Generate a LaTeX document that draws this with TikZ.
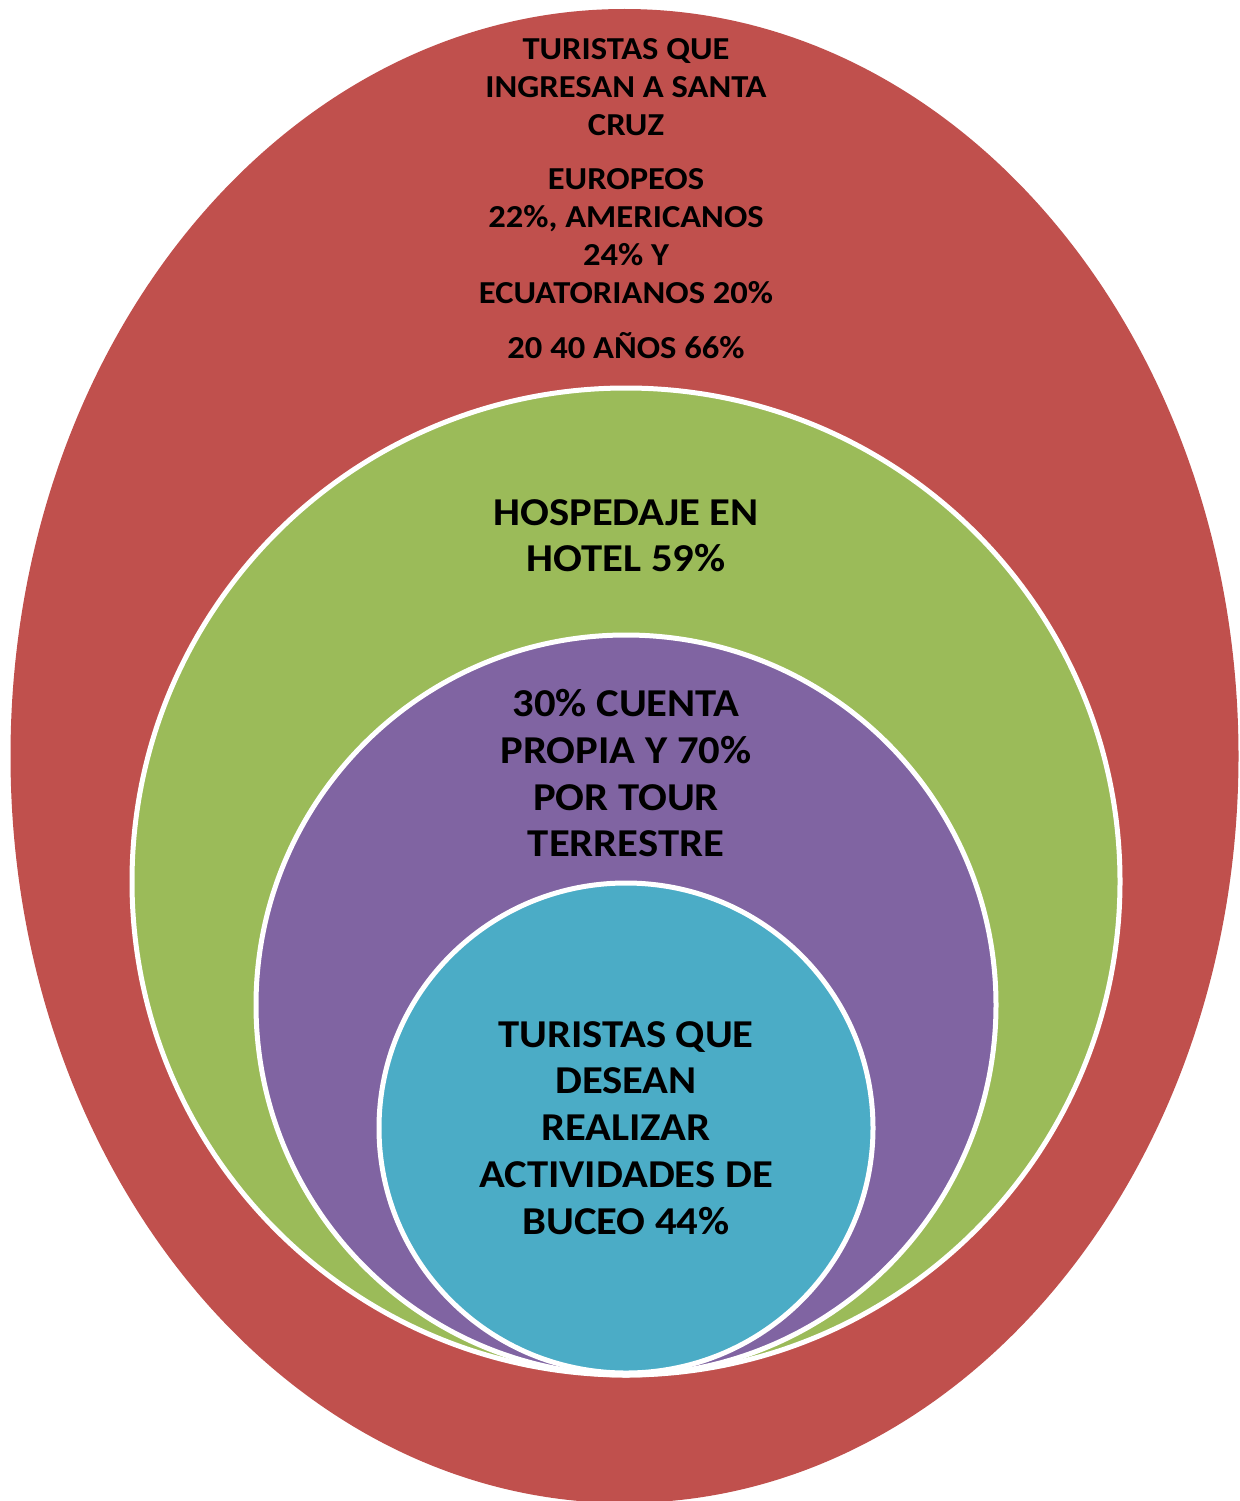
\documentclass[tikz,border=0pt]{standalone}
\usepackage{fontspec}
\setmainfont{Carlito}[FakeStretch=1.08]
\usetikzlibrary{shapes.geometric}
\definecolor{cred}{HTML}{C0504D}
\definecolor{cgreen}{HTML}{9BBB59}
\definecolor{cpurple}{HTML}{8064A2}
\definecolor{ccyan}{HTML}{4BACC6}
\tikzset{
  ring/.style={ellipse, inner sep=0pt, outer sep=0pt, draw=white, line width=5pt},
  bigtxt/.style={inner sep=0pt, align=center, font=\bfseries\fontsize{39.5}{46.8}\selectfont, anchor=north},
  smalltxt/.style={inner sep=0pt, align=center, font=\bfseries\fontsize{32}{38}\selectfont, anchor=north}
}
\begin{document}
\begin{tikzpicture}[x=1pt,y=-1pt]
\useasboundingbox (0,0) rectangle (1239,1501);
\node[ring, draw=none, fill=cred, minimum width=1228pt, minimum height=1494pt] (red) at (624.5,756) {};
\node[ring, fill=cgreen, minimum width=988pt, minimum height=987pt] (green) at (626,881.5) {};
\node[ring, fill=cpurple, minimum width=740pt, minimum height=740pt] (purple) at (626,1005) {};
\node[ring, fill=ccyan, minimum width=494pt, minimum height=490pt] (cyan) at (626,1128) {};
\node[smalltxt] (t1) at (626,38) {TURISTAS QUE\\INGRESAN A SANTA\\CRUZ\\[16pt]EUROPEOS\\22\%, AMERICANOS\\24\% Y\\ECUATORIANOS 20\%\\[17pt]20 40 AÑOS 66\%};
\node[bigtxt] (t2) at (626,499) {HOSPEDAJE EN\\HOTEL 59\%};
\node[bigtxt] (t3) at (626,689) {30\% CUENTA\\PROPIA Y 70\%\\POR TOUR\\TERRESTRE};
\node[bigtxt] (t4) at (626,1021) {TURISTAS QUE\\DESEAN\\REALIZAR\\ACTIVIDADES DE\\BUCEO 44\%};
\end{tikzpicture}
\end{document}
